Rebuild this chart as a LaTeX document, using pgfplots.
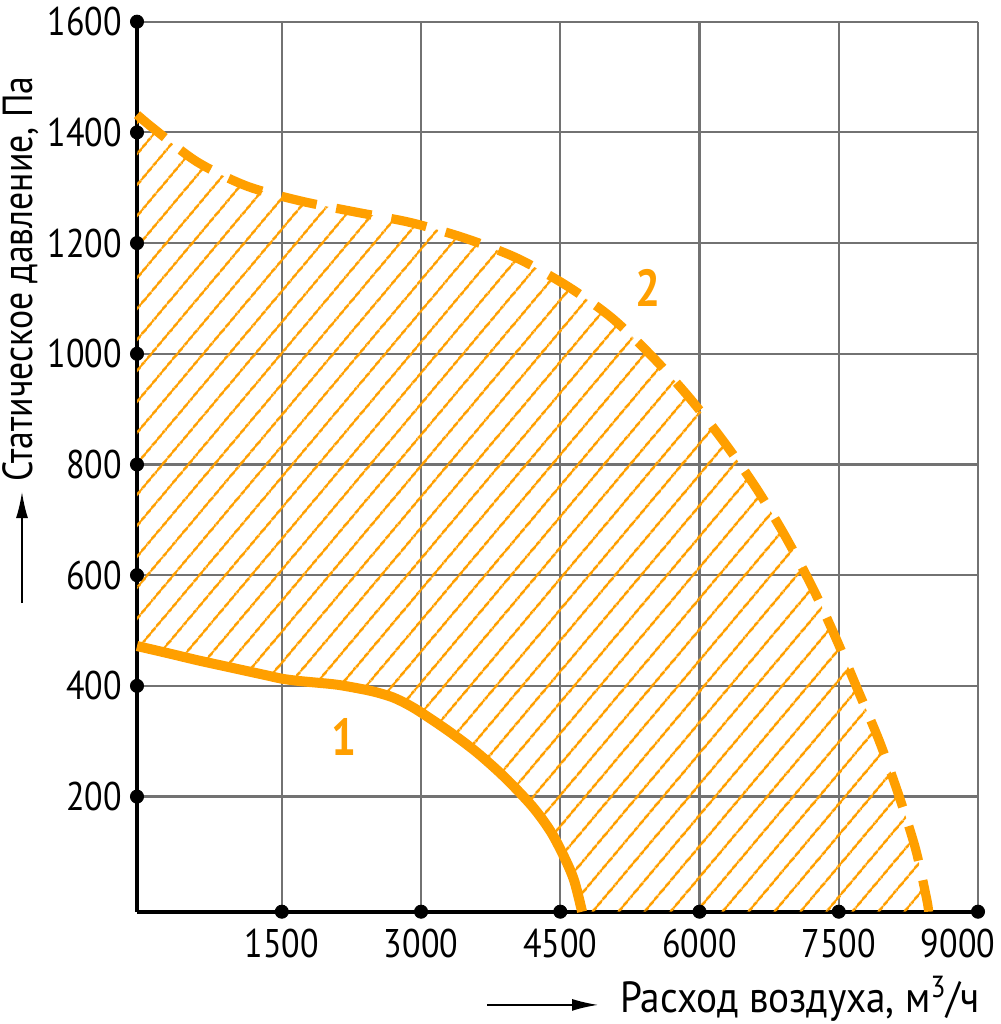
\documentclass[border=0pt]{standalone}
\usepackage{fontspec}
\setmainfont{PT Sans}[FakeStretch=0.85]
\newfontfamily\labelfont{PT Sans}[FakeStretch=0.9]
\usepackage{pgfplots}
\pgfplotsset{compat=1.18}
\usepgfplotslibrary{fillbetween}
\usetikzlibrary{patterns.meta,arrows.meta}
\definecolor{orng}{HTML}{FF9F00}
\definecolor{gridgray}{HTML}{727272}

\begin{document}
\begin{tikzpicture}
\begin{axis}[
    at={(0,0)}, anchor=south west,
    scale only axis, width=420.5bp, height=445bp,
    xmin=-60, xmax=9000, ymin=-8, ymax=1600,
    set layers,
    axis lines*=left,
    axis line style={black, line width=2bp},
    grid=major, major grid style={gridgray, line width=1.1bp},
    xtick={1500,3000,4500,6000,7500},
    extra x ticks={9000},
    extra x tick style={grid=major, xticklabel style={xshift=-10bp}},
    ytick={200,400,600,800,1000,1200,1400,1600},
    major tick length=0pt,
    tick label style={font=\fontsize{20bp}{20bp}\selectfont},
    /pgf/number format/assume math mode=true,
    /pgf/number format/1000 sep={},
    xticklabel style={yshift=-5bp},
    yticklabel style={xshift=-4bp},
    clip=false,
 ]
% 2 - upper limit (dashed)
\addplot [smooth, name path=upper, color=orng, line width=4.6bp, dash pattern=on 18bp off 10bp] coordinates {
    (-60,1432) (111,1408) (585,1347) (1123,1303) (1705,1276) (2297,1256)
    (2889,1237) (3471,1209) (4031,1173) (4569,1123) (5054,1065) (5496,994)
    (5894,920) (6271,839) (6616,756) (6928,669) (7219,577) (7467,487)
    (7704,393) (7940,299) (8145,203) (8328,105) (8447,15) (8468,-8)};
% 1 - lower limit (solid)
\addplot [smooth, name path=lower, color=orng, line width=5bp] coordinates {
    (-60,472) (300,458) (600,446) (900,435) (1200,424) (1350,418.5)
    (1500,413) (1650,409.5) (1800,407) (2100,402) (2400,393) (2550,387)
    (2700,379) (2850,367) (3000,352) (3300,318) (3600,280) (3900,235)
    (4200,182) (4400,136) (4550,88) (4650,48) (4735,-8)};
\addplot [draw=none, pattern={Lines[angle=50, distance=10bp, line width=1.35bp]},
    pattern color=orng, on layer=axis background] fill between[of=upper and lower];
% dots on the axes
\addplot [only marks, mark=*, mark size=3.3bp, black] coordinates {
    (1500,-8) (3000,-8) (4500,-8) (6000,-8) (7500,-8) (9000,-8)
    (-60,200) (-60,400) (-60,600) (-60,800) (-60,1000) (-60,1200) (-60,1400) (-60,1600)};
\node [orng, font=\bfseries\fontsize{26bp}{26bp}\selectfont] at (axis cs:2168,308) {1};
\node [orng, font=\bfseries\fontsize{26bp}{26bp}\selectfont] at (axis cs:5447,1119) {2};
\end{axis}
\node [anchor=base east, inner sep=0pt, font=\labelfont\fontsize{21.8bp}{21.8bp}\selectfont]
    at (421.5bp,-50.2bp) {Расход воздуха, м\textsuperscript{3}/ч};
\draw [-{Latex[length=13bp,width=6bp]}, line width=0.8bp] (175bp,-46.6bp) -- (230.5bp,-46.6bp);
\node [rotate=90, anchor=base west, inner sep=0pt, font=\fontsize{21bp}{21bp}\selectfont]
    at (-52bp,214.8bp) {Статическое давление, Па};
\draw [-{Latex[length=13bp,width=6bp]}, line width=0.8bp] (-57.5bp,154.3bp) -- (-57.5bp,209.8bp);
\pgfresetboundingbox
\path (-68.5bp,-56.15bp) rectangle (432bp,455.85bp);
\end{tikzpicture}
\end{document}
